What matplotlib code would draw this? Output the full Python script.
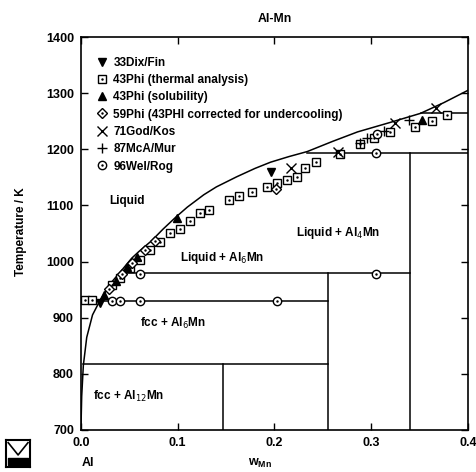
import matplotlib
matplotlib.use("Agg")
import matplotlib.pyplot as plt
from matplotlib.lines import Line2D

plt.rcParams['font.family'] = ['Liberation Sans', 'DejaVu Sans']

# ---- phase boundary lines (composition w_Mn, temperature K) ----
liq_x = [0.0195, 0.025, 0.032, 0.040, 0.0525, 0.060, 0.073, 0.085, 0.098, 0.110,
         0.127, 0.140, 0.161, 0.180, 0.196, 0.215, 0.234, 0.260, 0.286, 0.320,
         0.351, 0.375, 0.40]
liq_T = [930, 945, 964, 980, 1006, 1018, 1037, 1058, 1079, 1097,
         1119, 1133, 1151, 1166, 1177, 1187, 1196, 1214, 1231, 1248,
         1264, 1283, 1305]
solv_x = [0.0195, 0.012, 0.006, 0.0025, 0.0008, 0.0]
solv_T = [930, 905, 865, 815, 760, 700]
# horizontal lines: (x_start, x_end, T)
horiz = [(0.0, 0.255, 930), (0.04, 0.34, 980), (0.234, 0.40, 1193),
         (0.351, 0.40, 1264), (0.002, 0.255, 818)]
# vertical lines: (x, T_low, T_high)
vert = [(0.147, 700, 818), (0.255, 700, 980), (0.34, 700, 1193)]

# ---- experimental data ----
dix_x = [0.02, 0.196]
dix_T = [926, 1160]
phita_x = [0.004, 0.011, 0.032, 0.040, 0.051, 0.061, 0.0715, 0.082, 0.092, 0.1026,
           0.113, 0.123, 0.132, 0.153, 0.163, 0.177, 0.192, 0.203, 0.213, 0.223,
           0.232, 0.243, 0.268, 0.288, 0.303, 0.319, 0.345, 0.363, 0.378]
phita_T = [931, 931, 958, 970, 989, 1003, 1020, 1034, 1050, 1058,
           1073, 1087, 1092, 1110, 1116, 1124, 1133, 1140, 1145, 1150,
           1166, 1177, 1192, 1209, 1220, 1231, 1240, 1251, 1261]
phisol_x = [0.024, 0.036, 0.048, 0.058, 0.099, 0.353]
phisol_T = [940, 965, 990, 1008, 1078, 1253]
phi59_x = [0.029, 0.042, 0.053, 0.066, 0.077, 0.202]
phi59_T = [952, 978, 998, 1020, 1036, 1130]
god_x = [0.217, 0.266, 0.325, 0.367]
god_T = [1167, 1195, 1246, 1274]
mca_x = [0.288, 0.296, 0.313, 0.339]
mca_T = [1212, 1220, 1233, 1252]
wel_x = [0.032, 0.040, 0.061, 0.203, 0.061, 0.305, 0.305, 0.306]
wel_T = [930, 930, 930, 930, 977, 977, 1193, 1228]

labels = ['33Dix/Fin', '43Phi (thermal analysis)', '43Phi (solubility)',
          '59Phi (43PHI corrected for undercooling)', '71God/Kos', '87McA/Mur', '96Wel/Rog']
region_labels = ['Liquid', 'Liquid + Al$_4$Mn', 'Liquid + Al$_6$Mn',
                 'fcc + Al$_6$Mn', 'fcc + Al$_{12}$Mn']
region_x = [0.048, 0.266, 0.146, 0.095, 0.049]
region_T = [1108, 1051, 1006, 889, 759]

fig = plt.figure(figsize=(4.76, 4.72), dpi=100)
ax = fig.add_axes([0.170, 0.089, 0.813, 0.8326])

lw = 1.1
ax.plot(liq_x, liq_T, color='black', lw=lw)
ax.plot(solv_x, solv_T, color='black', lw=lw)
for x0, x1, t in horiz:
    ax.plot([x0, x1], [t, t], color='black', lw=lw)
for x, t0, t1 in vert:
    ax.plot([x, x], [t0, t1], color='black', lw=lw)

ms = 5.5
kw = dict(ls='none', color='black', mew=1.0)
ax.plot(dix_x, dix_T, marker='v', ms=ms, **kw)
ax.plot(phita_x, phita_T, marker='s', ms=ms, mfc='white', **kw)
ax.plot(phita_x, phita_T, marker='.', ms=1.5, **kw)
ax.plot(phisol_x, phisol_T, marker='^', ms=ms, **kw)
ax.plot(phi59_x, phi59_T, marker='D', ms=ms - 0.5, mfc='white', **kw)
ax.plot(phi59_x, phi59_T, marker='.', ms=1.5, **kw)
ax.plot(god_x, god_T, marker='x', ms=ms + 1, **kw)
ax.plot(mca_x, mca_T, marker='+', ms=ms + 1.5, **kw)
ax.plot(wel_x, wel_T, marker='o', ms=ms + 0.5, mfc='white', **kw)
ax.plot(wel_x, wel_T, marker='.', ms=1.5, **kw)

def h(m, ms_, fill=None, dot=False):
    base = Line2D([], [], ls='none', marker=m, ms=ms_, color='black', mew=1.0,
                  mfc=fill if fill else 'black')
    if dot:
        return (base, Line2D([], [], ls='none', marker='.', ms=1.5, color='black'))
    return base

handles = [h('v', ms), h('s', ms, 'white', True), h('^', ms), h('D', ms - 0.5, 'white', True),
           h('x', ms + 1), h('+', ms + 1.5), h('o', ms + 0.5, 'white', True)]
ax.legend(handles, labels, loc='upper left', bbox_to_anchor=(0.02, 0.968), frameon=False,
          handletextpad=0.5, labelspacing=0.45, handlelength=1.0,
          borderaxespad=0.2, prop={'weight': 'bold', 'size': 8.5})

for s, x, t in zip(region_labels, region_x, region_T):
    ax.text(x, t, s, ha='center', va='center', fontsize=8.5, fontweight='bold')

ax.set_xlim(0.0, 0.4)
ax.set_ylim(700, 1400)
ax.set_xticks([0.0, 0.1, 0.2, 0.3, 0.4])
ax.set_xticklabels(['0.0', '0.1', '0.2', '0.3', '0.4'])
ax.set_yticks(range(700, 1401, 100))
ax.tick_params(direction='in', length=5, width=1, top=True, right=True,
               labelsize=9, pad=5)
for lab in ax.get_xticklabels() + ax.get_yticklabels():
    lab.set_fontweight('bold')
for sp in ax.spines.values():
    sp.set_linewidth(1.2)

ax.set_title('Al-Mn', fontsize=8.8, fontweight='bold', pad=11)
fig.text(0.045, 0.51, 'Temperature / K', rotation=90, ha='center', va='center',
         fontsize=8.5, fontweight='bold')
fig.text(0.547, 0.004, 'w$_{\\mathregular{Mn}}$', ha='center', va='bottom',
         fontsize=9, fontweight='bold')
fig.text(0.185, 0.007, 'Al', ha='center', va='bottom', fontsize=9, fontweight='bold')

# small logo box
lax = fig.add_axes([0.012, 0.01, 0.052, 0.058])
lax.set_xlim(0, 1); lax.set_ylim(0, 1)
lax.set_xticks([]); lax.set_yticks([])
for sp in lax.spines.values():
    sp.set_linewidth(1.5)
lax.plot([0.1, 0.5, 0.9], [0.9, 0.45, 0.9], color='black', lw=1.2)
lax.fill_between([0.1, 0.9], 0.1, 0.35, color='black')

fig.savefig('out.png', dpi=100)
